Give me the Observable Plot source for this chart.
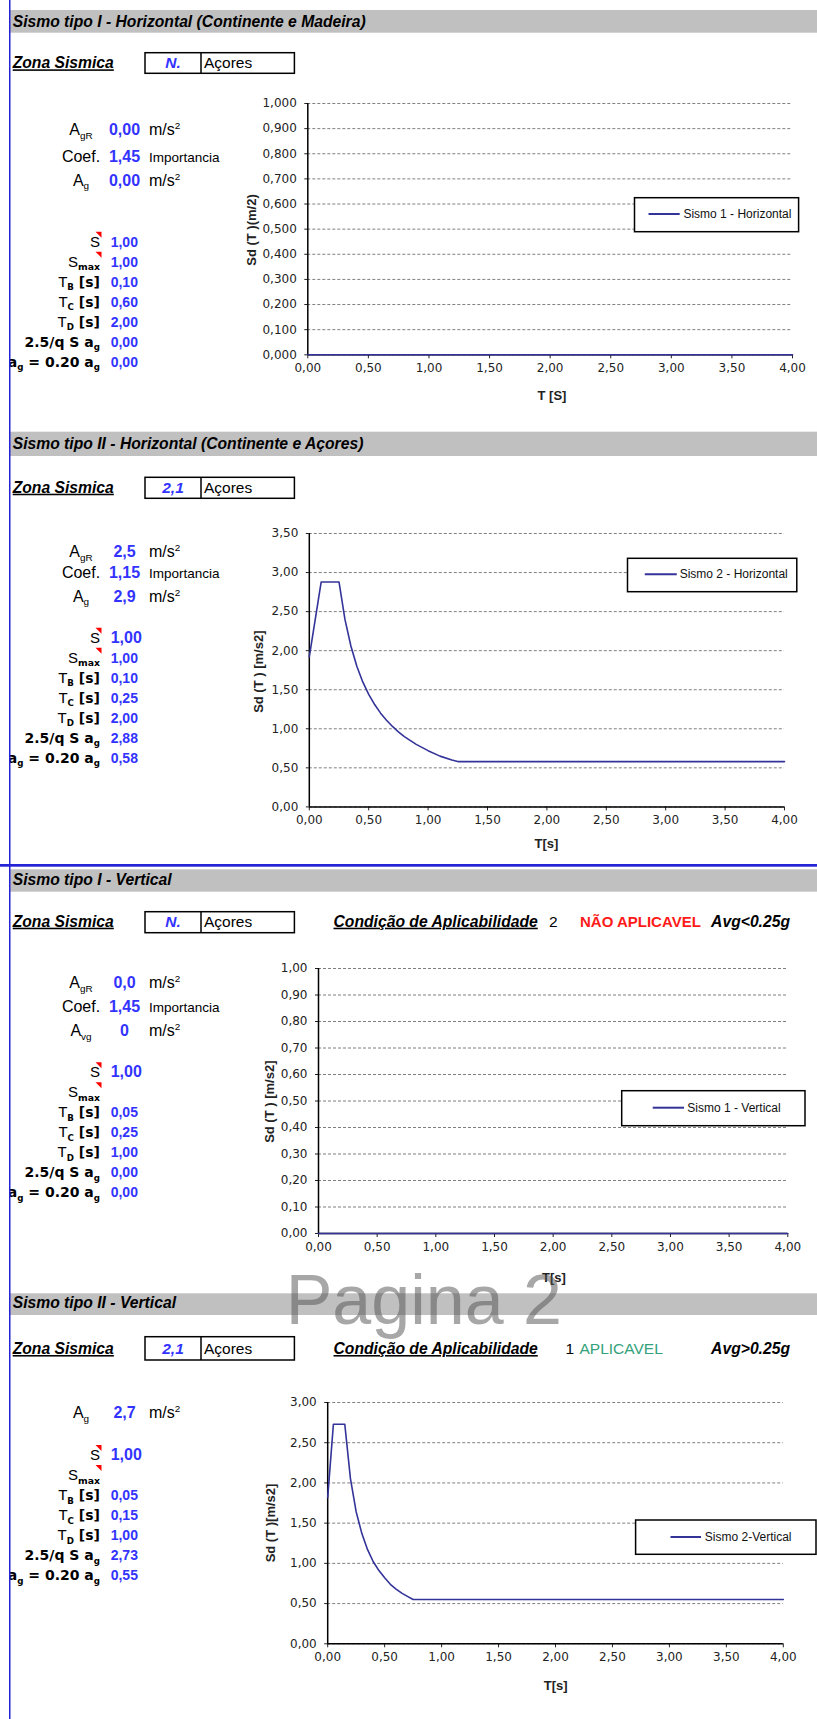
<!DOCTYPE html>
<html lang="pt">
<head>
<meta charset="utf-8">
<title>Espectros de resposta - Sismo tipo I e II</title>
<script src="https://cdn.jsdelivr.net/npm/d3@7"></script>
<script src="https://cdn.jsdelivr.net/npm/@observablehq/plot@0.6"></script>
<style>
  body { margin: 0; background: #fff; }
  #page { position: relative; width: 817px; height: 1719px; overflow: hidden; background: #fff; }
  #page > svg.layer { position: absolute; left: 0; top: 0; }
  #page > div.chart { position: absolute; }
</style>
</head>
<body>
<div id="page"></div>
<script>
// ---------- Spectrum data (period T [s] -> Sd(T)) ----------
const periodsFlat = [0, 0.5, 1, 1.5, 2, 2.5, 3, 3.5, 4];
const sdFlat      = [0, 0, 0, 0, 0, 0, 0, 0, 0];

const periodsH2 = [0, 0.10, 0.25, 0.30, 0.35, 0.40, 0.45, 0.50, 0.55, 0.60, 0.65, 0.70, 0.75, 0.80,
                   0.90, 1.00, 1.10, 1.20, 1.25, 1.50, 2.00, 2.50, 3.00, 3.50, 4.00];
const sdH2      = [1.92, 2.88, 2.88, 2.40, 2.06, 1.80, 1.60, 1.44, 1.31, 1.20, 1.11, 1.03, 0.96, 0.90,
                   0.80, 0.72, 0.65, 0.60, 0.58, 0.58, 0.58, 0.58, 0.58, 0.58, 0.58];

const periodsV2 = [0, 0.05, 0.15, 0.20, 0.25, 0.30, 0.35, 0.40, 0.45, 0.50, 0.55, 0.60, 0.65, 0.70,
                   0.75, 1.00, 1.50, 2.00, 2.50, 3.00, 3.50, 4.00];
const sdV2      = [1.82, 2.73, 2.73, 2.05, 1.64, 1.37, 1.17, 1.02, 0.91, 0.82, 0.74, 0.68, 0.63, 0.59,
                   0.55, 0.55, 0.55, 0.55, 0.55, 0.55, 0.55, 0.55];

// ---------- Axis ticks ----------
const xTicks   = [0, 0.5, 1, 1.5, 2, 2.5, 3, 3.5, 4];
const yTicksA  = [0, 0.1, 0.2, 0.3, 0.4, 0.5, 0.6, 0.7, 0.8, 0.9, 1.0];
const yTicksB  = [0, 0.5, 1.0, 1.5, 2.0, 2.5, 3.0, 3.5];
const yTicksC  = [0, 0.5, 1.0, 1.5, 2.0, 2.5, 3.0];

// ---------- Texts ----------
const sectionTitles = [
  "Sismo tipo I - Horizontal (Continente e Madeira)",
  "Sismo tipo II - Horizontal (Continente e Açores)",
  "Sismo tipo I - Vertical",
  "Sismo tipo II - Vertical"
];
const zoneCodes   = ["N.", "2,1", "N.", "2,1"];
const zoneRegions = ["Açores", "Açores", "Açores", "Açores"];
const legendNames = ["Sismo 1 - Horizontal", "Sismo 2 - Horizontal", "Sismo 1 - Vertical", "Sismo 2-Vertical"];
const yTitles     = ["Sd (T )(m/2)", "Sd (T ) [m/s2]", "Sd (T ) [m/s2]", "Sd (T )[m/s2]"];
const xTitles     = ["T [S]", "T[s]", "T[s]", "T[s]"];

// Ground acceleration block (reference value, importance coefficient, design value)
const agRValues  = ["0,00", "2,5", "0,0", null];
const coefValues = ["1,45", "1,15", "1,45", null];
const agValues   = ["0,00", "2,9", "0", "2,7"];

// Spectrum parameters
const sValues     = ["1,00", "1,00", "1,00", "1,00"];
const sMaxValues  = ["1,00", "1,00", "", ""];
const tBValues    = ["0,10", "0,10", "0,05", "0,05"];
const tCValues    = ["0,60", "0,25", "0,25", "0,15"];
const tDValues    = ["2,00", "2,00", "1,00", "1,00"];
const plateauVals = ["0,00", "2,88", "0,00", "2,73"];
const floorVals   = ["0,00", "0,58", "0,00", "0,55"];

// Vertical applicability
const applicCodes  = ["2", "1"];
const applicStates = ["NÃO APLICAVEL", "APLICAVEL"];
const applicRules  = ["Avg<0.25g", "Avg>0.25g"];

// ---------- Styling ----------
const ARIAL  = "'Liberation Sans', Arial, sans-serif";
const DEJAVU = "'DejaVu Sans', Verdana, sans-serif";
const BLUE = "#3333ff";
const NAVY = "#333399";
const comma = (n) => (d) => d.toFixed(n).replace(".", ",");

// ---------- Page layout per section ----------
const layout = [
  { bar: [10, 32.7], title: 27.3, zone: 68.3, box: [52.7, 73.3], top: [135, 161.7, 185.7], low: 246.7, bigS: false,
    chart: { x0: 307.3, x1: 792, yTop: 102.7, yBot: 354 },
    legend: { box: [634.5, 197.7, 798.6, 231.7], line: [648.5, 679.7], ly: 214, tx: 683.4 },
    xt: [552, 399.5], yt: [251, 230] },
  { bar: [431.7, 456], title: 449.3, zone: 492.7, box: [477.3, 498.3], top: [557.3, 578.3, 601.7], low: 642.7, bigS: true,
    chart: { x0: 308.8, x1: 784, yTop: 533.3, yBot: 806.7 },
    legend: { box: [627.5, 558.3, 796.8, 591.7], line: [644.8, 676.8], ly: 574.3, tx: 679.7 },
    xt: [546.5, 847.5], yt: [258, 671.7] },
  { bar: [869.3, 891.7], title: 885, zone: 926.7, box: [911.7, 932.7], top: [988, 1011.7, 1036], low: 1077.3, bigS: true,
    chart: { x0: 318, x1: 787.3, yTop: 967.7, yBot: 1232.7 },
    legend: { box: [621.7, 1090.7, 805, 1125.7], line: [652.7, 684], ly: 1107.7, tx: 687.3 },
    xt: [554, 1281.7], yt: [269.4, 1101.7] },
  { bar: [1293.3, 1315], title: 1308, zone: 1354, box: [1336.7, 1360], top: [null, null, 1418], low: 1460, bigS: true,
    chart: { x0: 327.2, x1: 782.8, yTop: 1402, yBot: 1643.3 },
    legend: { box: [635.6, 1520, 816, 1554.3], line: [670.5, 701], ly: 1537, tx: 704.8 },
    xt: [555.7, 1690], yt: [270, 1523] }
];

const page = d3.select("#page");
const bg = page.append("svg").attr("class", "layer").attr("width", 817).attr("height", 1719);

// Rich text helper: segments [text, "sub"|"sup"|null, extra attributes]
function text(g, x, y, segs, o = {}) {
  const size = o.size || 15;
  const t = g.append("text").attr("x", x).attr("y", y)
    .attr("text-anchor", o.anchor || "start")
    .attr("font-family", o.family || ARIAL)
    .attr("font-size", size)
    .attr("font-weight", o.weight || "normal")
    .attr("font-style", o.italic ? "italic" : "normal")
    .attr("fill", o.fill || "#000");
  if (o.underline) t.attr("text-decoration", "underline");
  if (o.transform) t.attr("transform", o.transform);
  if (o.baseline) t.attr("dominant-baseline", o.baseline);
  if (typeof segs === "string") segs = [[segs]];
  let shift = 0;
  for (const [s, kind, extra] of segs) {
    const ts = t.append("tspan").text(s);
    const target = kind === "sub" ? 3.5 : kind === "sup" ? -6 : 0;
    if (target !== shift) { ts.attr("dy", target - shift); shift = target; }
    if (kind) ts.attr("font-size", size * 0.62);
    if (extra) for (const k in extra) ts.attr(k, extra[k]);
  }
  return t;
}

const boldSub = { "font-weight": "bold", "font-family": DEJAVU };
const thinT = { "font-family": ARIAL, "font-weight": "normal", "font-size": 15 };

layout.forEach((L, i) => {
  // Section header band
  bg.append("rect").attr("x", 10).attr("y", L.bar[0]).attr("width", 807).attr("height", L.bar[1] - L.bar[0]).attr("fill", "#c0c0c0");
  text(bg, 12.7, L.title, sectionTitles[i], { size: 15.7, weight: "bold", italic: true });

  // Seismic zone row
  text(bg, 12.7, L.zone, "Zona Sismica", { size: 15.7, weight: "bold", italic: true, underline: true });
  bg.append("rect").attr("x", 145).attr("y", L.box[0]).attr("width", 149.4).attr("height", L.box[1] - L.box[0])
    .attr("fill", "none").attr("stroke", "#000").attr("stroke-width", 1.5);
  bg.append("line").attr("x1", 201).attr("x2", 201).attr("y1", L.box[0]).attr("y2", L.box[1]).attr("stroke", "#000").attr("stroke-width", 1.5);
  text(bg, 173, L.zone, zoneCodes[i], { size: 15.5, weight: "bold", italic: true, fill: BLUE, anchor: "middle" });
  text(bg, 204, L.zone, zoneRegions[i], { size: 15.5 });

  // Applicability (vertical components)
  if (i >= 2) {
    const k = i - 2;
    text(bg, 333.5, L.zone, "Condição de Aplicabilidade", { size: 15.7, weight: "bold", italic: true, underline: true });
    text(bg, k === 0 ? 549 : 565.4, L.zone, applicCodes[k], { size: 15.5 });
    if (k === 0) text(bg, 580, L.zone, applicStates[k], { size: 15, weight: "bold", fill: "#ff1a1a" });
    else text(bg, 579.5, L.zone, applicStates[k], { size: 15.5, fill: "#33a27a" });
    text(bg, 790, L.zone, applicRules[k], { size: 15.7, weight: "bold", italic: true, anchor: "end" });
  }

  // Acceleration block
  const unit = [["m/s"], ["2", "sup"]];
  const [yA, yC, yG] = L.top;
  if (agRValues[i] !== null) {
    text(bg, 81, yA, [["A"], ["gR", "sub"]], { size: 16, anchor: "middle" });
    text(bg, 124.5, yA, agRValues[i], { size: 16, weight: "bold", fill: BLUE, anchor: "middle" });
    text(bg, 149, yA, unit, { size: 16 });
  }
  if (coefValues[i] !== null) {
    text(bg, 81, yC, "Coef.", { size: 16, anchor: "middle" });
    text(bg, 124.5, yC, coefValues[i], { size: 16, weight: "bold", fill: BLUE, anchor: "middle" });
    text(bg, 149, yC, "Importancia", { size: 13.5 });
  }
  text(bg, 81, yG, [["A"], [i === 2 ? "vg" : "g", "sub"]], { size: 16, anchor: "middle" });
  text(bg, 124.5, yG, agValues[i], { size: 16, weight: "bold", fill: BLUE, anchor: "middle" });
  text(bg, 149, yG, unit, { size: 16 });

  // Spectrum parameters
  const rows = [
    { lab: [["S"]], fam: ARIAL, w: "normal", size: 15, v: sValues[i], tri: true, big: L.bigS },
    { lab: [["S"], ["max", "sub", boldSub]], fam: ARIAL, w: "normal", size: 15, v: sMaxValues[i], tri: true },
    { lab: [["T", null, thinT], ["B", "sub"], [" [s]"]], v: tBValues[i] },
    { lab: [["T", null, thinT], ["C", "sub"], [" [s]"]], v: tCValues[i] },
    { lab: [["T", null, thinT], ["D", "sub"], [" [s]"]], v: tDValues[i] },
    { lab: [["2.5/q S a"], ["g", "sub"]], v: plateauVals[i] },
    { lab: [["a"], ["g", "sub"], [" = 0.20 a"], ["g", "sub"]], v: floorVals[i] }
  ];
  rows.forEach((r, j) => {
    const y = L.low + j * 20;
    text(bg, 100, y, r.lab, { size: r.size || 14, family: r.fam || DEJAVU, weight: r.w || "bold", anchor: "end" });
    if (r.v) text(bg, 110.7, y, r.v, { size: r.big ? 16 : 14, weight: "bold", fill: BLUE });
    if (r.tri) bg.append("path").attr("d", `M95.5,${y - 15}L101.5,${y - 15}L101.5,${y - 9}Z`).attr("fill", "#ff0000");
  });

  // Axis titles
  text(bg, L.xt[0], L.xt[1], xTitles[i], { size: 13, weight: "bold", anchor: "middle", fill: "#222" });
  text(bg, 0, 0, yTitles[i], { size: 13, weight: "bold", anchor: "middle", fill: "#222",
    baseline: "central", transform: `translate(${L.yt[0]},${L.yt[1]}) rotate(-90)` });
});

// Page watermark
bg.append("text").attr("x", 562).attr("y", 1324).attr("text-anchor", "end")
  .attr("font-family", ARIAL).attr("font-size", 70).attr("fill", "#505050").attr("fill-opacity", 0.5).text("Pagina 2");

// ---------- Charts ----------
const series = [
  { T: periodsFlat, Sd: sdFlat, yMax: 1,   ticks: yTicksA, dec: 3 },
  { T: periodsH2,   Sd: sdH2,   yMax: 3.5, ticks: yTicksB, dec: 2 },
  { T: periodsFlat, Sd: sdFlat, yMax: 1,   ticks: yTicksA, dec: 2 },
  { T: periodsV2,   Sd: sdV2,   yMax: 3,   ticks: yTicksC, dec: 2 }
];

series.forEach((s, i) => {
  const c = layout[i].chart;
  const left = 230, top = c.yTop - 15, width = 817 - left, height = c.yBot - top + 45;
  const data = s.T.map((t, k) => ({ T: t, Sd: s.Sd[k] }));
  const svg = Plot.plot({
    width, height,
    marginLeft: c.x0 - left, marginRight: left + width - c.x1,
    marginTop: c.yTop - top, marginBottom: top + height - c.yBot,
    x: { domain: [0, 4] },
    y: { domain: [0, s.yMax] },
    style: { background: "transparent", fontFamily: DEJAVU, fontSize: "12px", color: "#222", overflow: "visible" },
    marks: [
      Plot.gridY(s.ticks, { stroke: "#7f7f7f", strokeOpacity: 1, strokeDasharray: "3,2" }),
      Plot.axisY(s.ticks, { tickFormat: comma(s.dec), tickSize: 3, tickPadding: 8, label: null }),
      Plot.axisX(xTicks, { tickFormat: comma(2), tickSize: 4, tickPadding: 5, label: null }),
      Plot.ruleX([0], { stroke: "#000", strokeWidth: 1.5 }),
      Plot.ruleY([0], { stroke: "#000", strokeWidth: 1.5 }),
      Plot.line(data, { x: "T", y: "Sd", stroke: NAVY, strokeWidth: 1.6 })
    ]
  });
  page.append("div").attr("class", "chart").style("left", left + "px").style("top", top + "px").node().appendChild(svg);
});

// ---------- Legends and page border (on top) ----------
const fg = page.append("svg").attr("class", "layer").attr("width", 817).attr("height", 1719).style("pointer-events", "none");
layout.forEach((L, i) => {
  const g = L.legend, [x0, y0, x1, y1] = g.box;
  fg.append("rect").attr("x", x0).attr("y", y0).attr("width", x1 - x0).attr("height", y1 - y0)
    .attr("fill", "#fff").attr("stroke", "#000").attr("stroke-width", 1.5);
  fg.append("line").attr("x1", g.line[0]).attr("x2", g.line[1]).attr("y1", g.ly).attr("y2", g.ly)
    .attr("stroke", NAVY).attr("stroke-width", 2);
  text(fg, g.tx, g.ly, legendNames[i], { size: 12, baseline: "central", fill: "#111" });
});
fg.append("rect").attr("x", 0).attr("y", 0).attr("width", 9).attr("height", 1719).attr("fill", "#fff");
fg.append("rect").attr("x", 0).attr("y", 864).attr("width", 817).attr("height", 2.7).attr("fill", "#2424d6");
fg.append("rect").attr("x", 9).attr("y", 0).attr("width", 1.5).attr("height", 1719).attr("fill", "#2424d6");
</script>
</body>
</html>
